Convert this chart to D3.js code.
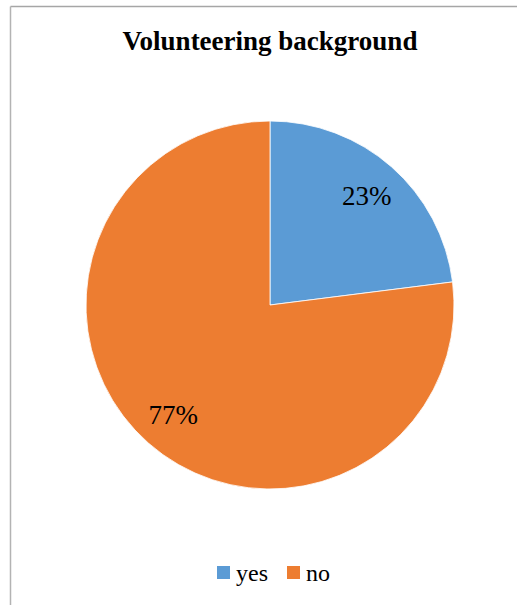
<!DOCTYPE html>
<html><head><meta charset="utf-8">
<script src="https://cdn.jsdelivr.net/npm/d3@7"></script>
<style>body{margin:0;background:#fff} text{font-family:'Liberation Serif','Times New Roman',serif}</style>
</head><body>
<svg id="c" width="517" height="605"></svg>
<script>
const categories = ["yes", "no"];
const values = [23, 77];
const labels = ["23%", "77%"];
const colors = ["#5B9BD5", "#ED7D31"];

const svg = d3.select("#c");
svg.append("rect").attr("width",517).attr("height",605).attr("fill","#fff");
svg.append("line").attr("x1",10.5).attr("x2",517).attr("y1",6.5).attr("y2",6.5).attr("stroke","#a6a6a6").attr("stroke-width",1.3);
svg.append("line").attr("x1",10.5).attr("x2",10.5).attr("y1",6.5).attr("y2",605).attr("stroke","#b3b3b3").attr("stroke-width",1.5);

svg.append("text").attr("x",270).attr("y",50).attr("text-anchor","middle")
  .attr("font-weight","bold")
  .attr("font-size",27).attr("fill","#000").text("Volunteering background");

const cx = 270, cy = 305, r = 184;
const pie = d3.pie().sort(null).value(d => d)(values);
const arc = d3.arc().innerRadius(0).outerRadius(r);
const g = svg.append("g").attr("transform",`translate(${cx},${cy})`);
g.selectAll("path").data(pie).join("path").attr("d",arc)
  .attr("fill",(d,i)=>colors[i]).attr("stroke","#fff").attr("stroke-width",0.8);
const labelArc = d3.arc().innerRadius(r*0.795).outerRadius(r*0.795);
g.selectAll("text").data(pie).join("text")
  .attr("transform",d=>`translate(${labelArc.centroid(d)})`)
  .attr("text-anchor","middle").attr("dy","0.35em")
  .attr("font-size",27)
  .attr("fill","#000").text((d,i)=>labels[i]);

const leg = svg.append("g");
const lx = [217, 287];
categories.forEach((c,i)=>{
  leg.append("rect").attr("x",lx[i]).attr("y",566).attr("width",13).attr("height",13).attr("fill",colors[i]);
  leg.append("text").attr("x",lx[i]+19).attr("y",581)
    .attr("font-size",24)
    .attr("fill","#000").text(c);
});
</script>
</body></html>
